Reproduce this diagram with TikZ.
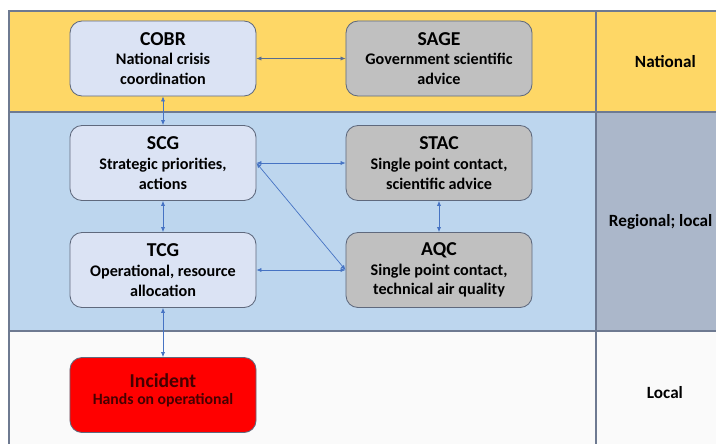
\documentclass[tikz,border=0pt]{standalone}
\usepackage{fontspec}
\setmainfont{Carlito}
\usetikzlibrary{arrows.meta,positioning}
\definecolor{bandyellow}{RGB}{254,215,102}
\definecolor{bandblue}{RGB}{189,214,238}
\definecolor{bandgrey}{RGB}{171,183,202}
\definecolor{bandwhite}{RGB}{250,250,250}
\definecolor{boxlight}{RGB}{219,227,244}
\definecolor{boxgrey}{RGB}{192,192,192}
\definecolor{boxedge}{RGB}{95,105,125}
\definecolor{frameline}{RGB}{110,122,145}
\definecolor{linkblue}{RGB}{70,115,195}
\definecolor{incred}{RGB}{255,0,0}
\definecolor{inctext}{RGB}{70,0,0}

\tikzset{
  cellbox/.style={draw=boxedge,line width=0.6pt,rounded corners=0.3cm,
    minimum width=4.65cm,minimum height=1.875cm,align=center,
    font=\bfseries\fontsize{11.5}{14}\selectfont,inner sep=2pt},
  lightbox/.style={cellbox,fill=boxlight},
  greybox/.style={cellbox,fill=boxgrey},
  link/.style={linkblue,line width=0.5pt,{Latex[length=3.5pt,width=3pt]}-{Latex[length=3.5pt,width=3pt]}},
  levellabel/.style={font=\bfseries\fontsize{12.2}{15}\selectfont,anchor=west}
}
\newcommand{\boxhead}[1]{{\fontsize{14}{17}\selectfont #1}\\}

\begin{document}
\begin{tikzpicture}[x=0.025cm,y=-0.025cm]
  \useasboundingbox (0,0) rectangle (716,443);
  \clip (0,0) rectangle (716,443);
  \fill[white] (0,0) rectangle (716,443);
  % bands
  \fill[bandyellow] (9,11) rectangle (760,112);
  \fill[bandblue]   (9,112) rectangle (596,331);
  \fill[bandgrey]   (596,112) rectangle (760,331);
  \fill[bandwhite]  (9,331) rectangle (760,480);
  \draw[frameline,line width=0.8pt] (760,11) -- (9,11) -- (9,480);
  \draw[frameline,line width=1.2pt] (9,112) -- (760,112);
  \draw[frameline,line width=1.2pt] (9,331) -- (760,331);
  \draw[frameline,line width=0.8pt] (596,11) -- (596,480);

  % boxes
  \node[lightbox] (cobr) at (163,58.5) {\boxhead{COBR}National crisis\\coordination};
  \node[greybox]  (sage) at (439,58.5) {\boxhead{SAGE}Government scientific\\advice};
  \node[lightbox] (scg)  at (163,163) {\boxhead{SCG}Strategic priorities,\\actions};
  \node[greybox]  (stac) at (439,163) {\boxhead{STAC}Single point contact,\\scientific advice};
  \node[lightbox] (tcg)  at (163,270) {\boxhead{TCG}Operational, resource\\allocation};
  \node[greybox]  (aqc)  at (439,270) {\boxhead{AQC}Single point contact,\\technical air quality};
  \node[cellbox,fill=incred,text=inctext] (inc) at (163,395)
    {\raisebox{0.3cm}{\shortstack{{\bfseries\fontsize{14}{17}\selectfont Incident}\\[1pt]%
      {\bfseries\fontsize{11.2}{13}\selectfont Hands on operational}}}};

  % links
  \draw[link,boxedge!70!linkblue] (cobr.east) -- (sage.west);
  \draw[link] (cobr.south) -- (scg.north);
  \draw[link] (scg.south) -- (tcg.north);
  \draw[link] (scg.east) -- (stac.west);
  \draw[link] (tcg.east) -- (aqc.west);
  \draw[link] (scg.east) -- (aqc.west);
  \draw[link] (stac.south) -- (aqc.north);
  \draw[link] (tcg.south) -- (inc.north);

  % levels
  \node[levellabel] (lnat) at (630,62) {National};
  \node[levellabel] (lreg) at (604,222) {Regional; local};
  \node[levellabel] (lloc) at (642,393) {Local};
\end{tikzpicture}
\end{document}
